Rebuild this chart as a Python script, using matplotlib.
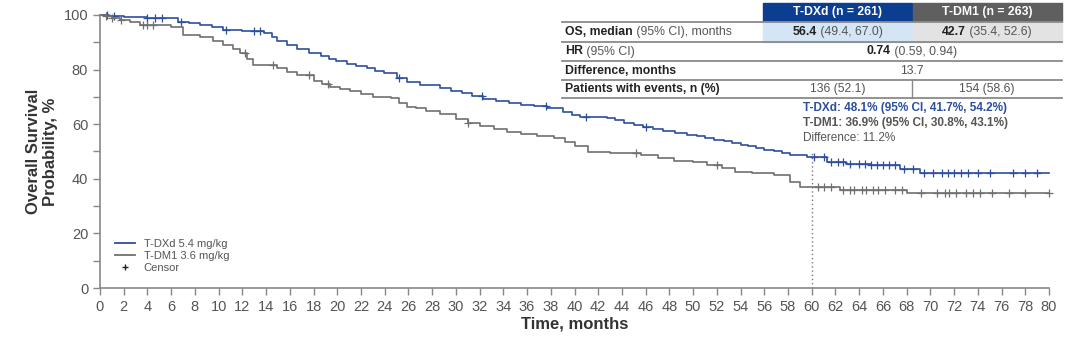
import numpy as np
import matplotlib.pyplot as plt

plt.rcParams['font.family'] = ['Liberation Sans', 'DejaVu Sans']

### KM step points, months / survival %
dxd_t = [0, 0.8, 2.0, 4.0, 6.6, 7.5, 8.4, 9.4, 10.4, 12.0, 13.8, 14.5, 14.9, 15.8,
         16.6, 17.6, 18.6, 19.3, 19.9, 20.8, 21.6, 22.5, 23.2, 23.9, 25.0, 25.9,
         27.0, 28.7, 29.6, 30.5, 31.4, 32.3, 33.4, 34.5, 35.5, 36.6, 37.7, 39.0,
         39.8, 40.5, 42.7, 43.4, 44.2, 45.0, 45.8, 46.6, 47.5, 48.5, 49.5, 50.3,
         51.0, 51.8, 52.6, 53.3, 54.0, 54.6, 55.3, 56.0, 56.8, 57.5, 58.2, 59.6,
         61.3, 62.9, 65.0, 67.4, 69.1]
dxd_s = [100, 99.6, 99.3, 99.0, 97.6, 97.0, 96.4, 95.5, 94.6, 94.2, 93.3, 92.0,
         90.5, 89.0, 87.6, 86.2, 84.9, 84.0, 83.2, 81.9, 81.2, 80.7, 79.6, 78.6,
         77.0, 75.4, 74.3, 73.2, 72.2, 71.3, 70.3, 69.4, 68.4, 67.6, 67.0, 66.5,
         65.8, 64.3, 63.5, 62.8, 62.2, 61.4, 60.5, 59.8, 59.0, 58.3, 57.6, 56.9,
         56.2, 55.6, 55.0, 54.3, 53.7, 53.1, 52.5, 51.9, 51.3, 50.6, 50.0, 49.4,
         48.9, 48.1, 46.3, 45.5, 45.1, 43.6, 42.2]

dm1_t = [0, 0.5, 1.0, 1.7, 2.5, 3.4, 6.0, 7.0, 8.4, 9.5, 10.4, 11.2, 11.8, 12.4,
         12.9, 14.9, 15.8, 16.6, 18.0, 18.7, 19.4, 20.2, 21.1, 22.0, 23.0, 24.5,
         25.2, 25.9, 26.6, 27.5, 28.7, 30.0, 31.0, 32.0, 33.2, 34.3, 35.5, 36.8,
         38.3, 39.2, 40.0, 41.1, 43.0, 45.6, 47.0, 48.4, 50.0, 51.2, 52.4, 53.5,
         55.0, 56.8, 58.2, 59.0, 62.4, 68.0]
dm1_s = [100, 99.6, 99.0, 98.2, 97.3, 96.4, 95.5, 92.7, 92.1, 90.5, 89.0, 87.4,
         86.0, 83.8, 81.7, 80.5, 79.2, 78.0, 76.0, 74.9, 73.8, 72.9, 72.0, 71.0,
         70.1, 69.5, 67.8, 66.4, 65.8, 65.0, 63.6, 62.0, 60.3, 59.2, 58.1, 57.3,
         56.5, 55.7, 54.8, 53.4, 52.0, 49.9, 49.3, 48.7, 47.6, 46.6, 46.0, 45.1,
         43.8, 42.6, 42.0, 41.4, 38.9, 36.9, 35.9, 34.9]

### censored times
dxd_cens = [0.6, 1.2, 4.0, 4.6, 5.2, 6.8, 10.6, 13.0, 13.5, 25.2, 32.2, 37.6, 41.0,
            46.0, 60.2, 61.0, 61.6, 62.2, 62.6, 63.2, 64.0, 64.5, 65.0, 65.5, 66.0,
            66.5, 67.0, 67.8, 68.5, 69.5, 70.2, 71.0, 71.5, 72.0, 72.6, 73.2, 74.0,
            75.0, 77.0, 78.0, 79.0]
dm1_cens = [0.5, 1.0, 1.8, 3.6, 4.0, 4.5, 12.2, 14.6, 17.6, 19.2, 31.0, 45.2, 52.0,
            60.5, 61.0, 61.6, 62.6, 63.2, 63.6, 64.2, 64.6, 65.2, 65.6, 66.2, 67.0,
            67.6, 69.2, 70.6, 71.2, 71.6, 72.2, 73.0, 73.6, 74.2, 75.2, 76.6, 78.0,
            80.0]

end_t = 80.0
blue = '#2b4f9e'
grey = '#6f6f6f'


def step_value(ts, ss, x):
    i = np.searchsorted(ts, x, side='right') - 1
    return np.array(ss)[i]


fig = plt.figure(figsize=(10.8, 3.42), dpi=100)
ax = fig.add_axes([100/1080, 1-288/342, 949/1080, 273/342])

for ts, ss, cens, col in [(dxd_t, dxd_s, dxd_cens, blue), (dm1_t, dm1_s, dm1_cens, grey)]:
    xs = list(ts) + [end_t]
    ys = list(ss) + [ss[-1]]
    ax.step(xs, ys, where='post', color=col, lw=1.2, clip_on=False)
    ax.plot(cens, step_value(ts, ss, cens), '+', color=col, ms=5.5, mew=0.9,
            clip_on=False)

### landmark at 60 months
ax.plot([60, 60], [0, 50], ls=(0, (1, 2)), color='#777777', lw=1)
ax.text(59.3, 65, 'T-DXd: 48.1% (95% CI, 41.7%, 54.2%)', color=blue,
        fontsize=8.5, fontweight='bold')
ax.text(59.3, 59.5, 'T-DM1: 36.9% (95% CI, 30.8%, 43.1%)', color='#555555',
        fontsize=8.5, fontweight='bold')
ax.text(59.3, 54, 'Difference: 11.2%', color='#555555', fontsize=8.5)

ax.set_xlim(0, 80)
ax.set_ylim(0, 100)
ax.set_xticks(np.arange(0, 81, 2))
ax.set_yticks(np.arange(0, 101, 20))
ax.set_yticks(np.arange(10, 100, 20), minor=True)
for s in ['top', 'right']:
    ax.spines[s].set_visible(False)
for s in ['left', 'bottom']:
    ax.spines[s].set_color('#888888')
    ax.spines[s].set_linewidth(1.2)
ax.tick_params(which='both', color='#888888', labelcolor='#555555', labelsize=10.5,
               length=5, width=1)
ax.set_xlabel('Time, months', fontsize=12, fontweight='bold', color='#333333',
              labelpad=2)
ax.set_ylabel('Overall Survival\nProbability, %', fontsize=12, fontweight='bold',
              color='#333333', labelpad=4)

### legend
ax.plot([], [], color=blue, lw=1.3, label='T-DXd 5.4 mg/kg')
ax.plot([], [], color=grey, lw=1.3, label='T-DM1 3.6 mg/kg')
ax.plot([], [], '+', color='#222222', ms=5, label='Censor')
h, l = ax.get_legend_handles_labels()
ax.legend(h[-3:], l[-3:], loc='lower left', bbox_to_anchor=(0.005, 0.02),
          frameon=False, fontsize=8, handlelength=1.8, labelspacing=0.15,
          labelcolor='#555555')

### summary table
def fx(px):
    return px / 1080


def fy(py):
    return 1 - py / 342


x0, x1, x2, x3 = 562, 763, 912, 1062
rows = [3, 22, 42, 61, 80, 98]
fig.patches.append(plt.Rectangle((fx(x1), fy(rows[1])), fx(x2-x1), fy(rows[0]) - fy(rows[1]),
                                 transform=fig.transFigure, color='#0b3d91'))
fig.patches.append(plt.Rectangle((fx(x2+1), fy(rows[1])), fx(x3-x2-1), fy(rows[0]) - fy(rows[1]),
                                 transform=fig.transFigure, color='#5f5f5f'))
fig.patches.append(plt.Rectangle((fx(x1), fy(rows[2])), fx(x2-x1), fy(rows[1]) - fy(rows[2]),
                                 transform=fig.transFigure, color='#d4e6f5'))
fig.patches.append(plt.Rectangle((fx(x2+1), fy(rows[2])), fx(x3-x2-1), fy(rows[1]) - fy(rows[2]),
                                 transform=fig.transFigure, color='#e3e3e3'))
for r in rows[1:]:
    fig.add_artist(plt.Line2D([fx(x0), fx(x3)], [fy(r), fy(r)], color='#8a8a8a', lw=1.3))
fig.add_artist(plt.Line2D([fx(x2), fx(x2)], [fy(rows[4]), fy(rows[5])], color='#8a8a8a', lw=1))

fs = 8.8
fig.text(fx((x1+x2)/2), fy(12.5), 'T-DXd (n = 261)', color='white', fontsize=fs,
         fontweight='bold', ha='center', va='center')
fig.text(fx((x2+x3)/2), fy(12.5), 'T-DM1 (n = 263)', color='white', fontsize=fs,
         fontweight='bold', ha='center', va='center')


def cell(xc, yc, bold, rest, ha='center'):
    t = fig.text(fx(xc), fy(yc), bold, fontsize=fs, fontweight='bold', color='#222222',
                 ha='left', va='center')
    r = fig.canvas.get_renderer()
    w1 = t.get_window_extent(r).width
    t2 = fig.text(0, fy(yc), rest, fontsize=fs, color='#555555', ha='left', va='center')
    w2 = t2.get_window_extent(r).width
    start = xc - (w1 + w2) / 2 if ha == 'center' else xc
    t.set_x(fx(start))
    t2.set_x(fx(start + w1))


cell(565, 32, 'OS, median', ' (95% CI), months', ha='left')
cell((x1+x2)/2, 32, '56.4', ' (49.4, 67.0)')
cell((x2+x3)/2, 32, '42.7', ' (35.4, 52.6)')
cell(565, 51.5, 'HR', ' (95% CI)', ha='left')
cell(x2, 51.5, '0.74', ' (0.59, 0.94)')
cell(565, 70.5, 'Difference, months', '', ha='left')
fig.text(fx(x2), fy(70.5), '13.7', fontsize=fs, color='#555555', ha='center', va='center')
cell(565, 89, 'Patients with events, n (%)', '', ha='left')
fig.text(fx((x1+x2)/2), fy(89), '136 (52.1)', fontsize=fs, color='#555555', ha='center', va='center')
fig.text(fx((x2+x3)/2), fy(89), '154 (58.6)', fontsize=fs, color='#555555', ha='center', va='center')

fig.savefig('out.png', dpi=100)
